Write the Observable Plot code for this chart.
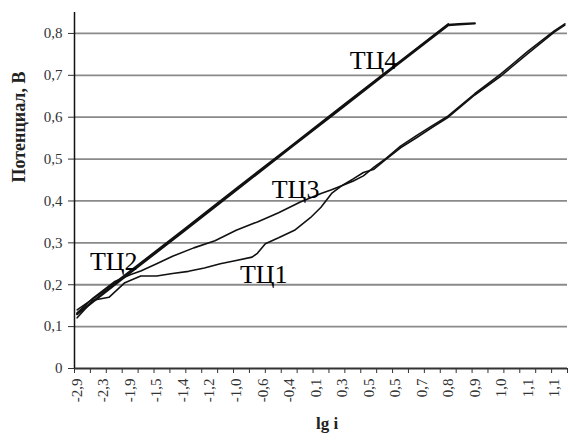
<!DOCTYPE html>
<html>
<head>
<meta charset="utf-8">
<script src="https://cdn.jsdelivr.net/npm/d3@7"></script>
<script src="https://cdn.jsdelivr.net/npm/@observablehq/plot@0.6"></script>
<style>
  body { margin: 0; background: #fff; }
  #chart { width: 571px; height: 437px; }
</style>
</head>
<body>
<div id="chart"></div>
<script>
// Category axis (Excel-like): 93 categories, a label every 5 categories
const tickLabels = ["-2,9","-2,3","-1,9","-1,5","-1,4","-1,2","-1,0","-0,6","-0,4","0,1","0,3","0,5","0,5","0,7","0,8","0,9","1,0","1,1","1,1"];
const labelIdx = [0,5,10,15,20,25,30,35,40,45,50,55,60,65,70,75,80,85,90];
const minorTicks = [-0.5,2.5,5.5,8.5,11.5,14.5,17.5,20.5,23.5,26.5,29.5,32.5,35.5,38.5,41.5,44.5,47.5,50.5,53.5,56.5,59.5,62.5,65.5,68.5,71.5,74.5,77.5,80.5,83.5,86.5,89.5,92.5];
const yTicks = [0,0.1,0.2,0.3,0.4,0.5,0.6,0.7,0.8];
const gridValues = [0.1,0.2,0.3,0.4,0.5,0.6,0.7,0.8];

// Series (category index, potential in V)
const tc1X = [0,3,6,9,12,15,18,21,24,27,30,33,34,35.5,38,41,44,46,48,50,52,54,56,58,61,64,67,70,75,80,85,90,92];
const tc1Y = [0.121,0.163,0.17,0.205,0.221,0.221,0.227,0.232,0.24,0.25,0.258,0.266,0.275,0.298,0.312,0.33,0.36,0.385,0.418,0.437,0.447,0.46,0.481,0.499,0.531,0.556,0.58,0.603,0.656,0.704,0.757,0.806,0.823];

const tc2X = [0,5,10,20,30,40,50,60,70];
const tc2Y = [0.14,0.184,0.233,0.331,0.43,0.528,0.627,0.725,0.823];

const tc3X = [0,3,7,10,12,15,18,22,26,30,34,38,42,46,48,50,52,54,56,58,61,64,67,70,75,80,85,90,92];
const tc3Y = [0.133,0.168,0.207,0.224,0.233,0.25,0.268,0.288,0.305,0.33,0.35,0.372,0.397,0.418,0.427,0.437,0.452,0.468,0.476,0.497,0.527,0.551,0.576,0.6,0.653,0.699,0.752,0.803,0.82];

const tc4X = [0,10,20,30,40,50,60,70,72,75];
const tc4Y = [0.13,0.229,0.327,0.426,0.525,0.623,0.722,0.82,0.822,0.824];

const seriesNames = ["ТЦ1","ТЦ2","ТЦ3","ТЦ4"];
const labelX = [35.2, 6.9, 41.2, 55.9];
const labelY = [0.203, 0.236, 0.406, 0.716];

const toRows = (xs, ys) => xs.map((x, i) => ({x, y: ys[i]}));

const chart = Plot.plot({
  width: 571,
  height: 437,
  marginLeft: 74,
  marginRight: 4,
  marginTop: 12,
  marginBottom: 69,
  style: {fontFamily: "'Liberation Serif', 'Times New Roman', serif", background: "#fff", overflow: "visible"},
  x: {domain: [-0.5, 92.5]},
  y: {domain: [0, 0.85]},
  marks: [
    Plot.ruleY(gridValues, {stroke: "#8a8a8a", strokeWidth: 1.8}),
    Plot.axisY({ticks: yTicks, tickFormat: d => d === 0 ? "0" : d.toFixed(1).replace(".", ","), tickSize: 6, tickPadding: 6, fontSize: 15, label: null, color: "#333"}),
    Plot.axisX({ticks: labelIdx, tickFormat: (d, i) => tickLabels[i], tickRotate: -90, tickSize: 0, tickPadding: 10, fontSize: 15, label: null, color: "#333"}),
    Plot.axisX({ticks: minorTicks, tickFormat: () => "", tickSize: 5, label: null, color: "#333"}),
    Plot.ruleY([0], {stroke: "#333", strokeWidth: 2}),
    Plot.ruleX([-0.5], {stroke: "#111", strokeWidth: 1.5}),
    Plot.line(toRows(tc1X, tc1Y), {x: "x", y: "y", stroke: "#111", strokeWidth: 1.6}),
    Plot.line(toRows(tc3X, tc3Y), {x: "x", y: "y", stroke: "#111", strokeWidth: 1.6}),
    Plot.line(toRows(tc2X, tc2Y), {x: "x", y: "y", stroke: "#111", strokeWidth: 1.6}),
    Plot.line(toRows(tc4X, tc4Y), {x: "x", y: "y", stroke: "#111", strokeWidth: 2.4}),
    Plot.text(seriesNames, {x: (d, i) => labelX[i], y: (d, i) => labelY[i], text: d => d, fontSize: 26, lineAnchor: "bottom", fill: "#000"}),
    Plot.text(["Потенциал, В"], {frameAnchor: "left", rotate: -90, dx: -55, dy: -8, fontSize: 18, fontWeight: "bold", fill: "#222"}),
    Plot.text(["lg i"], {frameAnchor: "bottom", dy: 60, dx: 6, lineAnchor: "bottom", fontSize: 17, fontWeight: "bold", fill: "#222"})
  ]
});
document.getElementById("chart").appendChild(chart);
</script>
</body>
</html>
